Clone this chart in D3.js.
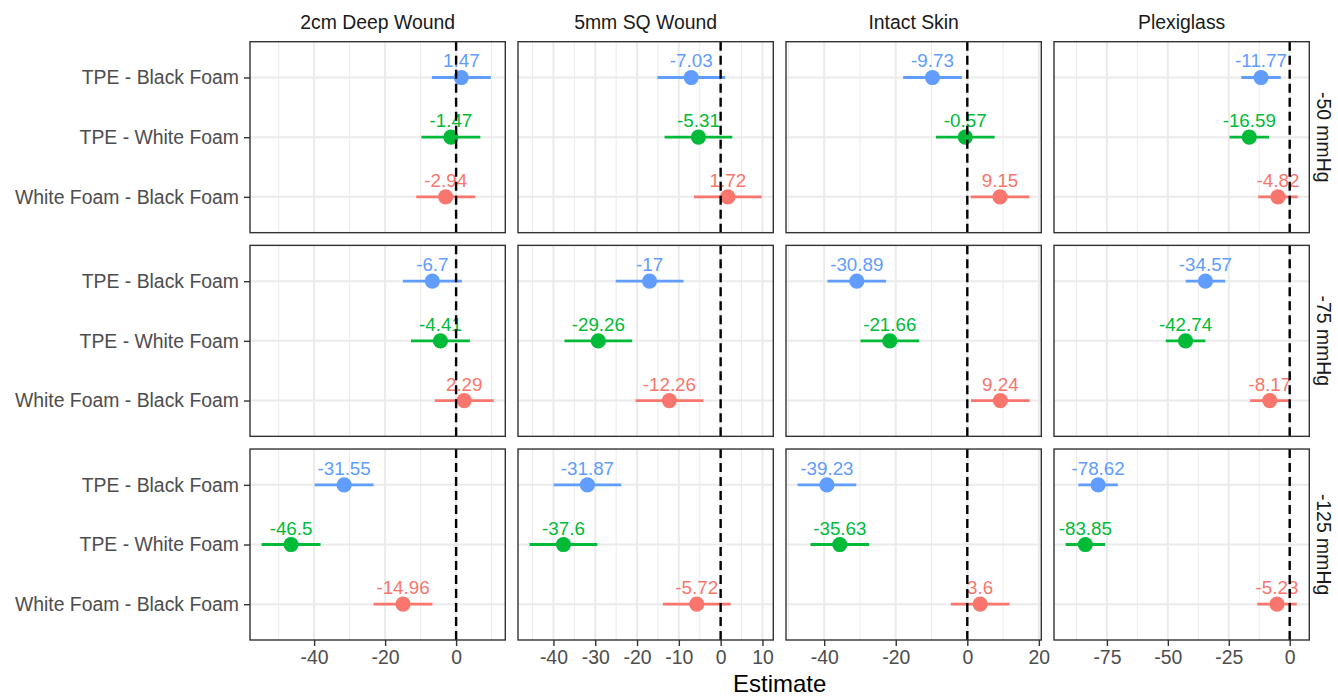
<!DOCTYPE html>
<html>
<head>
<meta charset="utf-8">
<script src="https://cdn.jsdelivr.net/npm/d3@7"></script>
<style>
  body { margin: 0; background: #fff; }
  svg { display: block; font-family: "Liberation Sans", Arial, Helvetica, sans-serif; }
</style>
</head>
<body>
<div id="chart"></div>
<script>
// facet labels
var wounds = ["2cm Deep Wound", "5mm SQ Wound", "Intact Skin", "Plexiglass"];
var pressures = ["-50 mmHg", "-75 mmHg", "-125 mmHg"];
var comparisons = ["TPE - Black Foam", "TPE - White Foam", "White Foam - Black Foam"];
var colors = ["#619CFF", "#00BA38", "#F8766D"];

// estimates [wound][comparison] for each pressure
var est50  = [[1.47, -1.47, -2.94], [-7.03, -5.31, 1.72], [-9.73, -0.57, 9.15], [-11.77, -16.59, -4.82]];
var est75  = [[-6.7, -4.41, 2.29], [-17, -29.26, -12.26], [-30.89, -21.66, 9.24], [-34.57, -42.74, -8.17]];
var est125 = [[-31.55, -46.5, -14.96], [-31.87, -37.6, -5.72], [-39.23, -35.63, 3.6], [-78.62, -83.85, -5.23]];

// confidence interval ends
var lo50  = [[-6.83, -9.77, -11.24], [-15.13, -13.41, -6.38], [-17.93, -8.77, 0.95], [-19.87, -24.69, -12.92]];
var hi50  = [[9.77, 6.83, 5.36], [1.07, 2.79, 9.82], [-1.53, 7.63, 17.35], [-3.67, -8.49, 3.28]];
var lo75  = [[-15.0, -12.71, -6.01], [-25.1, -37.36, -20.36], [-39.09, -29.86, 1.04], [-42.67, -50.84, -16.27]];
var hi75  = [[1.6, 3.89, 10.59], [-8.9, -21.16, -4.16], [-22.69, -13.46, 17.44], [-26.47, -34.64, -0.07]];
var lo125 = [[-39.85, -54.8, -23.26], [-39.97, -45.7, -13.82], [-47.43, -43.83, -4.6], [-86.72, -91.95, -13.33]];
var hi125 = [[-23.25, -38.2, -6.66], [-23.77, -29.5, 2.38], [-31.03, -27.43, 11.8], [-70.52, -75.75, 2.87]];

// x tick labels per wound column
var xTicks = [[-40, -20, 0], [-40, -30, -20, -10, 0, 10], [-40, -20, 0, 20], [-75, -50, -25, 0]];

(function() {
  var estimates = [est50, est75, est125],
      lows = [lo50, lo75, lo125],
      highs = [hi50, hi75, hi125];

  var W = 1338, H = 697,
      padL = 250, padR = 1309.3, padT = 41.7, padB = 640,
      gap = 12.7,
      pw = (padR - padL - gap * 3) / 4,
      ph = (padB - padT - gap * 2) / 3;

  var svg = d3.select("#chart").append("svg")
      .attr("width", W)
      .attr("height", H);

  // one x scale per wound column (free x), with ggplot's 5% expansion
  var xScales = wounds.map(function(_, c) {
    var vals = [];
    for (var r = 0; r < 3; r++) vals = vals.concat(lows[r][c], highs[r][c]);
    var mn = d3.min(vals), mx = d3.max(vals), pad = (mx - mn) * 0.05;
    return d3.scaleLinear().domain([mn - pad, mx + pad]).range([0, pw]);
  });

  var y = d3.scalePoint()
      .domain(comparisons)
      .range([0, ph])
      .padding(0.6);

  function minorTicks(t, dom) {
    var step = t[1] - t[0], out = [];
    for (var v = t[0] - step / 2; v >= dom[0]; v -= step) out.push(v);
    for (var i = 0; i < t.length; i++) {
      var m = t[i] + step / 2;
      if (m <= dom[1]) out.push(m);
    }
    return out;
  }

  pressures.forEach(function(p, r) {
    wounds.forEach(function(w, c) {
      var x = xScales[c];
      var gx = padL + c * (pw + gap), gy = padT + r * (ph + gap);
      var g = svg.append("g")
          .attr("transform", "translate(" + gx + "," + gy + ")");

      g.append("rect").attr("width", pw).attr("height", ph).attr("fill", "#fff");

      g.selectAll(".minor")
        .data(minorTicks(xTicks[c], x.domain()))
        .join("line")
          .attr("class", "minor")
          .attr("x1", d => x(d)).attr("x2", d => x(d))
          .attr("y1", 0).attr("y2", ph)
          .attr("stroke", "#ebebeb").attr("stroke-width", 1);

      g.selectAll(".major")
        .data(xTicks[c])
        .join("line")
          .attr("class", "major")
          .attr("x1", d => x(d)).attr("x2", d => x(d))
          .attr("y1", 0).attr("y2", ph)
          .attr("stroke", "#ebebeb").attr("stroke-width", 2);

      g.selectAll(".hgrid")
        .data(comparisons)
        .join("line")
          .attr("class", "hgrid")
          .attr("x1", 0).attr("x2", pw)
          .attr("y1", d => y(d)).attr("y2", d => y(d))
          .attr("stroke", "#ebebeb").attr("stroke-width", 2);

      var rows = comparisons.map(function(k, i) {
        return { comp: k, est: estimates[r][c][i], lo: lows[r][c][i], hi: highs[r][c][i], color: colors[i] };
      });

      g.selectAll(".ci")
        .data(rows)
        .join("line")
          .attr("class", "ci")
          .attr("x1", d => x(d.lo)).attr("x2", d => x(d.hi))
          .attr("y1", d => y(d.comp)).attr("y2", d => y(d.comp))
          .attr("stroke", d => d.color).attr("stroke-width", 2.8);

      g.selectAll(".pt")
        .data(rows)
        .join("circle")
          .attr("class", "pt")
          .attr("cx", d => x(d.est)).attr("cy", d => y(d.comp))
          .attr("r", 7.6)
          .attr("fill", d => d.color);

      g.selectAll(".lbl")
        .data(rows)
        .join("text")
          .attr("class", "lbl")
          .attr("x", d => x(d.est)).attr("y", d => y(d.comp) - 10)
          .attr("text-anchor", "middle")
          .attr("font-size", "18.8px")
          .attr("fill", d => d.color)
          .text(d => d.est);

      g.append("line")
          .attr("x1", x(0)).attr("x2", x(0))
          .attr("y1", 0).attr("y2", ph)
          .attr("stroke", "#000").attr("stroke-width", 2.4)
          .attr("stroke-dasharray", "9,5");

      g.append("rect")
          .attr("width", pw).attr("height", ph)
          .attr("fill", "none").attr("stroke", "#333").attr("stroke-width", 1.4);

      if (r == 2) {
        g.append("g")
            .attr("transform", "translate(0," + ph + ")")
            .call(d3.axisBottom(x).tickValues(xTicks[c]).tickSize(6).tickPadding(4).tickFormat(d => d))
            .call(a => a.select(".domain").remove())
            .call(a => a.selectAll("line").attr("stroke", "#333").attr("stroke-width", 1.4))
            .call(a => a.selectAll("text").attr("fill", "#4d4d4d").attr("font-size", "19.4px"));
      }
      if (c == 0) {
        g.append("g")
            .call(d3.axisLeft(y).tickSize(6).tickPadding(5))
            .call(a => a.select(".domain").remove())
            .call(a => a.selectAll("line").attr("stroke", "#333").attr("stroke-width", 1.4))
            .call(a => a.selectAll("text").attr("fill", "#4d4d4d").attr("font-size", "19.4px"));
      }
      if (r == 0) {
        svg.append("text")
            .attr("x", gx + pw / 2)
            .attr("y", 29)
            .attr("text-anchor", "middle")
            .attr("font-size", "19.4px")
            .attr("fill", "#1a1a1a")
            .text(w);
      }
      if (c == 3) {
        svg.append("text")
            .attr("transform", "translate(" + (padR + 8) + "," + (gy + ph / 2) + ") rotate(90)")
            .attr("text-anchor", "middle")
            .attr("font-size", "19.4px")
            .attr("fill", "#1a1a1a")
            .text(p);
      }
    });
  });

  svg.append("text")
      .attr("x", (padL + padR) / 2)
      .attr("y", 692)
      .attr("text-anchor", "middle")
      .attr("font-size", "24px")
      .attr("fill", "#000")
      .text("Estimate");
})();
</script>
</body>
</html>
